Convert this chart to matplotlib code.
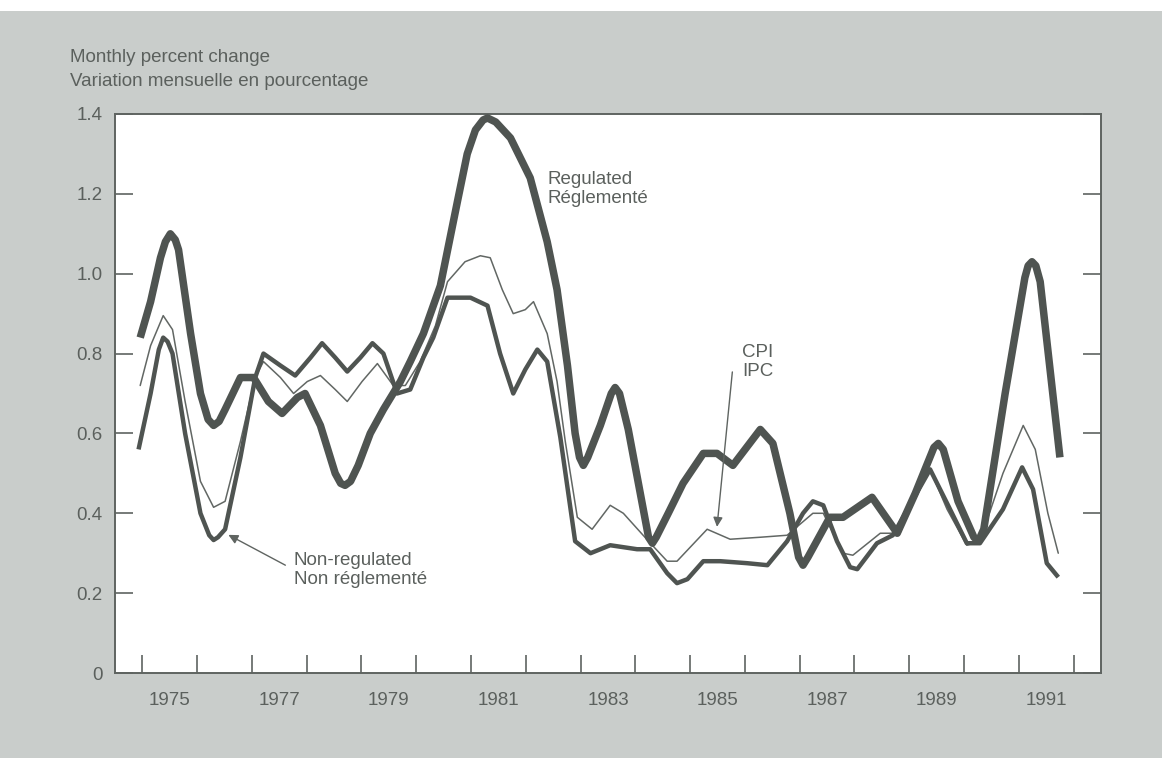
import matplotlib
matplotlib.use("Agg")
import matplotlib.pyplot as plt
from matplotlib.patches import Rectangle

# ---------------- data (decimal years, monthly percent change) ----------------
reg_x = [1974.96, 1975.15, 1975.33, 1975.42, 1975.51, 1975.60, 1975.66, 1975.88, 1976.06, 1976.20,
         1976.30, 1976.40, 1976.51, 1976.79, 1977.03, 1977.30, 1977.55, 1977.83, 1977.97, 1978.25,
         1978.52, 1978.62, 1978.70, 1978.80, 1978.94, 1979.16, 1979.40, 1979.71, 1979.89, 1980.13,
         1980.44, 1980.75, 1980.93, 1981.08, 1981.22, 1981.30, 1981.45, 1981.72, 1982.08, 1982.39,
         1982.57, 1982.76, 1982.90, 1982.98, 1983.05, 1983.13, 1983.36, 1983.56, 1983.63, 1983.71,
         1983.87, 1984.24, 1984.31, 1984.38, 1984.60, 1984.87, 1985.24, 1985.49, 1985.78, 1986.28,
         1986.51, 1986.82, 1986.98, 1987.06, 1987.15, 1987.55, 1987.79, 1988.32, 1988.78, 1989.11,
         1989.45, 1989.53, 1989.62, 1989.89, 1990.18, 1990.26, 1990.36, 1990.75, 1991.11, 1991.17,
         1991.24, 1991.31, 1991.39, 1991.75]
reg_y = [0.84, 0.93, 1.04, 1.08, 1.10, 1.085, 1.06, 0.85, 0.70, 0.635,
         0.62, 0.63, 0.66, 0.74, 0.74, 0.68, 0.65, 0.69, 0.70, 0.62,
         0.50, 0.475, 0.47, 0.48, 0.52, 0.60, 0.66, 0.73, 0.78, 0.85,
         0.97, 1.18, 1.30, 1.36, 1.385, 1.39, 1.38, 1.34, 1.24, 1.08,
         0.96, 0.77, 0.60, 0.54, 0.52, 0.54, 0.62, 0.70, 0.715, 0.70,
         0.61, 0.34, 0.325, 0.34, 0.40, 0.475, 0.55, 0.55, 0.52, 0.61,
         0.575, 0.40, 0.29, 0.27, 0.29, 0.39, 0.39, 0.44, 0.35, 0.45,
         0.565, 0.575, 0.56, 0.43, 0.34, 0.33, 0.36, 0.70, 0.99, 1.02,
         1.03, 1.02, 0.98, 0.54]

nonreg_x = [1974.93, 1975.15, 1975.30, 1975.38, 1975.46, 1975.55, 1975.78, 1976.06, 1976.22, 1976.30,
            1976.38, 1976.51, 1976.79, 1977.06, 1977.21, 1977.52, 1977.79, 1978.07, 1978.28, 1978.52,
            1978.74, 1978.98, 1979.20, 1979.40, 1979.65, 1979.89, 1980.13, 1980.31, 1980.57, 1980.99,
            1981.30, 1981.53, 1981.77, 1981.99, 1982.21, 1982.39, 1982.63, 1982.90, 1983.18, 1983.54,
            1984.03, 1984.27, 1984.58, 1984.76, 1984.95, 1985.24, 1985.55, 1986.04, 1986.41, 1986.77,
            1987.06, 1987.24, 1987.43, 1987.68, 1987.92, 1988.05, 1988.41, 1988.70, 1989.05, 1989.38,
            1989.69, 1990.05, 1990.29, 1990.71, 1991.06, 1991.26, 1991.51, 1991.72]
nonreg_y = [0.56, 0.70, 0.81, 0.84, 0.83, 0.80, 0.60, 0.40, 0.345, 0.333,
            0.34, 0.36, 0.54, 0.74, 0.80, 0.77, 0.745, 0.79, 0.826, 0.79,
            0.755, 0.79, 0.826, 0.80, 0.70, 0.71, 0.79, 0.84, 0.94, 0.94,
            0.92, 0.80, 0.70, 0.76, 0.81, 0.78, 0.59, 0.33, 0.30, 0.32,
            0.31, 0.31, 0.25, 0.225, 0.235, 0.28, 0.28, 0.275, 0.27, 0.33,
            0.40, 0.43, 0.42, 0.33, 0.265, 0.26, 0.325, 0.345, 0.43, 0.51,
            0.425, 0.325, 0.325, 0.41, 0.515, 0.46, 0.275, 0.24]

cpi_x = [1974.96, 1975.15, 1975.38, 1975.55, 1975.78, 1976.06, 1976.30, 1976.51, 1976.79, 1977.06,
         1977.21, 1977.52, 1977.76, 1978.01, 1978.25, 1978.52, 1978.74, 1979.01, 1979.29, 1979.58,
         1979.80, 1980.07, 1980.35, 1980.57, 1980.89, 1981.17, 1981.35, 1981.57, 1981.77, 1981.99,
         1982.14, 1982.39, 1982.57, 1982.72, 1982.94, 1983.21, 1983.54, 1983.78, 1984.22, 1984.58,
         1984.76, 1985.31, 1985.73, 1986.28, 1986.77, 1987.24, 1987.43, 1987.79, 1987.97, 1988.47,
         1988.83, 1989.11, 1989.38, 1989.69, 1990.05, 1990.29, 1990.71, 1991.08, 1991.30, 1991.53,
         1991.72]
cpi_y = [0.72, 0.82, 0.895, 0.86, 0.68, 0.48, 0.415, 0.43, 0.58, 0.74,
         0.78, 0.74, 0.70, 0.73, 0.745, 0.71, 0.68, 0.73, 0.775, 0.72,
         0.72, 0.78, 0.87, 0.98, 1.03, 1.045, 1.04, 0.96, 0.90, 0.91,
         0.93, 0.85, 0.73, 0.58, 0.39, 0.36, 0.42, 0.40, 0.333, 0.28,
         0.28, 0.36, 0.335, 0.34, 0.345, 0.40, 0.40, 0.30, 0.295, 0.35,
         0.35, 0.45, 0.51, 0.41, 0.32, 0.33, 0.50, 0.62, 0.56, 0.40,
         0.30]

year_ticks = list(range(1975, 1993))
year_label_pos = [1975.5, 1977.5, 1979.5, 1981.5, 1983.5, 1985.5, 1987.5, 1989.5, 1991.5]
year_labels = ["1975", "1977", "1979", "1981", "1983", "1985", "1987", "1989", "1991"]
y_ticks = [0, 0.2, 0.4, 0.6, 0.8, 1.0, 1.2, 1.4]
y_labels = ["0", "0.2", "0.4", "0.6", "0.8", "1.0", "1.2", "1.4"]

# ---------------- style ----------------
BG = "#c9cdcb"
LINE = "#4f5451"
TXT = "#5b605d"
FONT = "Liberation Sans"
plt.rcParams["font.family"] = [FONT, "DejaVu Sans"]

fig = plt.figure(figsize=(11.74, 7.58), dpi=100, facecolor="white")
fig.patches.append(Rectangle((0, 0), 0.99, 0.985, transform=fig.transFigure,
                             facecolor=BG, edgecolor="none", zorder=-10))

ax = fig.add_axes([115 / 1174, 1 - 673 / 758, (1101 - 115) / 1174, (673 - 114) / 758])
ax.set_facecolor("white")

ax.plot(cpi_x, cpi_y, color="#626764", lw=1.1, solid_joinstyle="round", solid_capstyle="round", zorder=3)
ax.plot(nonreg_x, nonreg_y, color=LINE, lw=3.2, solid_joinstyle="round", solid_capstyle="butt", zorder=4)
ax.plot(reg_x, reg_y, color=LINE, lw=5.4, solid_joinstyle="round", solid_capstyle="butt", zorder=5)

ax.set_xlim(1974.5, 1992.5)
ax.set_ylim(0, 1.4)

for s in ax.spines.values():
    s.set_color("#5f6461")
    s.set_linewidth(1.4)

ax.set_yticks(y_ticks, y_labels)
ax.tick_params(axis="y", direction="in", length=13, width=1.2, color="#5f6461",
               left=True, right=True, labelsize=13.5, labelcolor=TXT, pad=9)
ax.set_xticks(year_ticks, [""] * len(year_ticks))
ax.tick_params(axis="x", which="major", direction="in", length=13, width=1.2, color="#5f6461")
ax.set_xticks(year_label_pos, year_labels, minor=True)
ax.tick_params(axis="x", which="minor", length=0, labelsize=13.5, labelcolor=TXT, pad=14)

fig.text(70 / 1174, 1 - 58 / 758, "Monthly percent change", fontsize=13.5, color=TXT, va="center", ha="left")
fig.text(70 / 1174, 1 - 82 / 758, "Variation mensuelle en pourcentage", fontsize=13.5, color=TXT,
         va="center", ha="left")

ax.text(1982.39, 1.212, "Regulated\nRéglementé", fontsize=13.5, color=TXT, ha="left", va="center",
        linespacing=1.15, zorder=6)
ax.text(1985.95, 0.78, "CPI\nIPC", fontsize=13.5, color=TXT, ha="left", va="center",
        linespacing=1.15, zorder=6)
ax.text(1977.76, 0.258, "Non-regulated\nNon réglementé", fontsize=13.5, color=TXT, ha="left",
        va="center", linespacing=1.15, zorder=6)

ax.annotate("", xy=(1985.49, 0.366), xytext=(1985.77, 0.754),
            arrowprops=dict(arrowstyle="-|>", color="#5f6461", lw=1.0, mutation_scale=14,
                            shrinkA=0, shrinkB=0), zorder=6)
ax.annotate("", xy=(1976.57, 0.346), xytext=(1977.61, 0.27),
            arrowprops=dict(arrowstyle="-|>", color="#5f6461", lw=1.0, mutation_scale=14,
                            shrinkA=0, shrinkB=0), zorder=6)

fig.savefig("out.png", dpi=100, facecolor=fig.get_facecolor())
